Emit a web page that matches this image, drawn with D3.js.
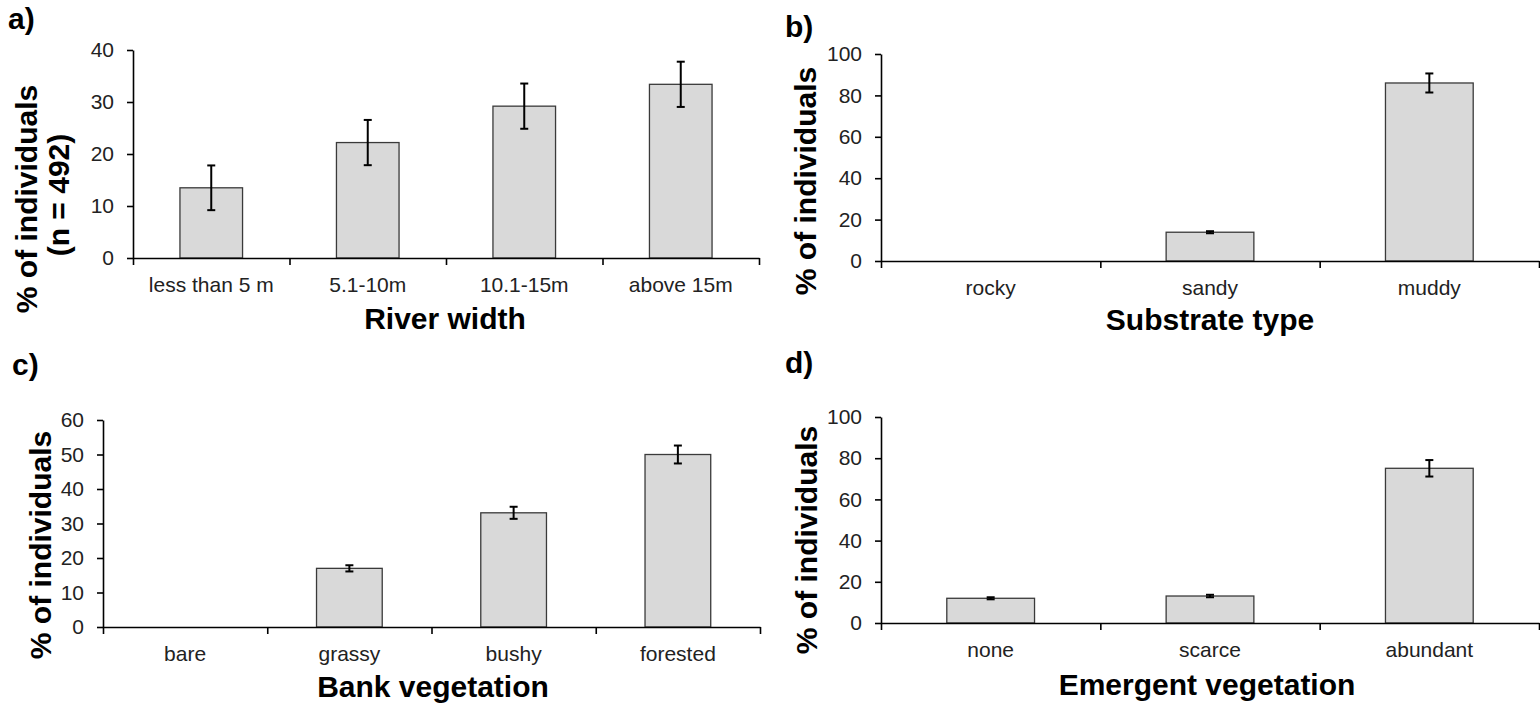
<!DOCTYPE html>
<html>
<head>
<meta charset="utf-8">
<script src="https://cdn.jsdelivr.net/npm/d3@7"></script>
<style>
  body { margin: 0; background: #fff; }
  svg { display: block; }
</style>
</head>
<body>
<svg id="chart" width="1540" height="709"></svg>
<script>
// Data
const widthCats = ['less than 5 m', '5.1-10m', '10.1-15m', 'above 15m']
const widthVals = [13.5, 22.2, 29.2, 33.4]
const widthErr = [4.3, 4.35, 4.35, 4.35]

const substrateCats = ['rocky', 'sandy', 'muddy']
const substrateVals = [0, 13.9, 86.0]
const substrateErr = [0, 0.5, 4.6]

const bankCats = ['bare', 'grassy', 'bushy', 'forested']
const bankVals = [0, 17.0, 33.1, 50.0]
const bankErr = [0, 0.9, 1.75, 2.6]

const emergentCats = ['none', 'scarce', 'abundant']
const emergentVals = [12.0, 13.1, 75.1]
const emergentErr = [0.5, 0.6, 4.0]

const ticksWidth = [0, 10, 20, 30, 40]
const ticksSubstrate = [0, 20, 40, 60, 80, 100]
const ticksBank = [0, 10, 20, 30, 40, 50, 60]
const ticksEmergent = [0, 20, 40, 60, 80, 100]

const FONT = '"Liberation Sans", Arial, sans-serif'

const svg = d3.select('#chart')

function drawPanel(p) {
  const n = p.cats.length
  const g = svg.append('g')

  // Scales
  const yScale = d3.scaleLinear()
    .domain([0, d3.max(p.ticks)])
    .range([p.bottom, p.top])

  const xScale = d3.scaleBand()
    .domain(p.cats)
    .range([p.left, p.right])
    .paddingInner(0.6)
    .paddingOuter(0.3)

  // category boundaries for the tick marks
  const edgeScale = d3.scaleLinear()
    .domain([0, n])
    .range([p.left, p.right])

  const rows = p.cats.map((c, i) => ({ cat: c, val: p.vals[i], err: p.errs[i] }))

  // Bars
  g.selectAll('rect.bar')
    .data(rows.filter(d => d.val > 0))
    .join('rect')
    .attr('class', 'bar')
    .attr('x', d => xScale(d.cat))
    .attr('y', d => yScale(d.val))
    .attr('width', xScale.bandwidth())
    .attr('height', d => yScale(0) - yScale(d.val))
    .attr('fill', '#d9d9d9')
    .attr('stroke', '#3a3a3a')
    .attr('stroke-width', 1.3)

  // Error bars
  const errRows = rows.filter(d => d.err > 0)
  const cx = d => xScale(d.cat) + xScale.bandwidth() / 2
  const eb = g.selectAll('g.err')
    .data(errRows)
    .join('g')
    .attr('class', 'err')
    .attr('stroke', '#000')
    .attr('stroke-width', 2)

  eb.append('line')
    .attr('x1', cx).attr('x2', cx)
    .attr('y1', d => yScale(d.val - d.err))
    .attr('y2', d => yScale(d.val + d.err))
  eb.append('line')
    .attr('x1', d => cx(d) - 4).attr('x2', d => cx(d) + 4)
    .attr('y1', d => yScale(d.val + d.err))
    .attr('y2', d => yScale(d.val + d.err))
  eb.append('line')
    .attr('x1', d => cx(d) - 4).attr('x2', d => cx(d) + 4)
    .attr('y1', d => yScale(d.val - d.err))
    .attr('y2', d => yScale(d.val - d.err))

  // Y axis
  const yAxisGroup = g.append('g')
    .attr('transform', `translate(${p.left},0)`)
    .call(d3.axisLeft(yScale).tickValues(p.ticks).tickSize(6).tickSizeOuter(0).tickPadding(13))
  yAxisGroup.selectAll('text')
    .attr('font-family', FONT)
    .attr('font-size', 21)
    .attr('fill', '#222')

  // X axis: tick marks between categories
  g.append('g')
    .attr('transform', `translate(0,${p.bottom})`)
    .call(d3.axisBottom(edgeScale).tickValues(d3.range(n + 1)).tickSize(7).tickSizeOuter(0).tickFormat(''))

  // X axis: category labels
  const xLabels = g.append('g')
    .attr('transform', `translate(0,${p.bottom})`)
    .call(d3.axisBottom(xScale).tickSize(0).tickPadding(19))
  xLabels.select('.domain').remove()
  xLabels.selectAll('text')
    .attr('font-family', FONT)
    .attr('font-size', 21)
    .attr('fill', '#222')

  g.selectAll('.domain, .tick line')
    .attr('stroke', '#000')
    .attr('stroke-width', 1.6)

  // Titles
  g.append('text')
    .attr('x', p.xTitle[0])
    .attr('y', p.xTitle[1])
    .attr('text-anchor', 'middle')
    .attr('font-family', FONT)
    .attr('font-weight', 'bold')
    .attr('font-size', 30)
    .text(p.xLabel)

  p.yLabels.forEach(l => {
    g.append('text')
      .attr('transform', `translate(${l.x},${l.y}) rotate(-90)`)
      .attr('text-anchor', 'middle')
      .attr('font-family', FONT)
      .attr('font-weight', 'bold')
      .attr('font-size', 30)
      .text(l.text)
  })

  g.append('text')
    .attr('x', p.letter[0])
    .attr('y', p.letter[1])
    .attr('font-family', FONT)
    .attr('font-weight', 'bold')
    .attr('font-size', 30)
    .text(p.letter[2])
}

drawPanel({
  cats: widthCats, vals: widthVals, errs: widthErr, ticks: ticksWidth,
  left: 133, right: 759, top: 50, bottom: 258,
  xLabel: 'River width', xTitle: [445, 329],
  yLabels: [{ text: '% of individuals', x: 37, y: 199 }, { text: '(n = 492)', x: 69, y: 195 }],
  letter: [8, 29, 'a)']
})

drawPanel({
  cats: substrateCats, vals: substrateVals, errs: substrateErr, ticks: ticksSubstrate,
  left: 881, right: 1539, top: 54, bottom: 261,
  xLabel: 'Substrate type', xTitle: [1210, 330],
  yLabels: [{ text: '% of individuals', x: 816, y: 181 }],
  letter: [785, 37, 'b)']
})

drawPanel({
  cats: bankCats, vals: bankVals, errs: bankErr, ticks: ticksBank,
  left: 103, right: 760, top: 420, bottom: 627,
  xLabel: 'Bank vegetation', xTitle: [433, 697],
  yLabels: [{ text: '% of individuals', x: 51, y: 545 }],
  letter: [12, 375, 'c)']
})

drawPanel({
  cats: emergentCats, vals: emergentVals, errs: emergentErr, ticks: ticksEmergent,
  left: 881, right: 1539, top: 417, bottom: 623,
  xLabel: 'Emergent vegetation', xTitle: [1207, 695],
  yLabels: [{ text: '% of individuals', x: 817, y: 540 }],
  letter: [785, 373, 'd)']
})
</script>
</body>
</html>
